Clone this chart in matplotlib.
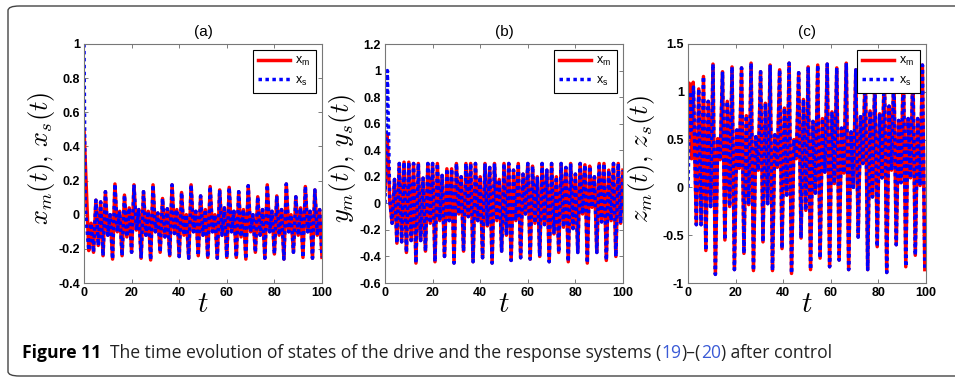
import numpy as np
import matplotlib.pyplot as plt
from matplotlib.patches import FancyBboxPatch

plt.rcParams['font.family'] = ['Liberation Sans', 'DejaVu Sans']
plt.rcParams['mathtext.fontset'] = 'cm'
plt.rcParams['axes.unicode_minus'] = False

# ---- values (turning points of the curves) ----
# transient before synchronisation: (time, value) for drive (m) and response (s)
xm_t0 = [0.0, 2.0]
xm_v0 = [0.50, -0.21]
xs_t0 = [0.0, 0.5, 2.0]
xs_v0 = [1.00, 0.05, -0.21]

ym_t0 = [0.0, 0.9, 2.0]
ym_v0 = [0.10, 0.52, 0.02]
ys_t0 = [0.0, 1.0, 2.0]
ys_v0 = [0.00, 1.00, 0.02]

zm_t0 = [0.0, 0.5, 1.5, 2.2, 3.5]
zm_v0 = [0.70, 1.09, 0.30, 1.10, -0.39]
zs_t0 = [0.0, 0.8, 1.4, 2.3, 3.5]
zs_v0 = [0.00, 1.00, 0.60, 1.05, -0.39]

# synchronised part, one turning point per time unit
t_ab = np.arange(2, 101)
x_sync = [-0.21, -0.05, -0.22, 0.085, -0.18, 0.075, -0.24, 0.135, -0.12, 0.0,
          -0.26, 0.18, -0.10, 0.02, -0.24, 0.115, -0.13, 0.04, -0.22, 0.175,
          -0.09, 0.03, -0.255, 0.135, -0.12, 0.02, -0.265, 0.175, -0.10, 0.01,
          -0.22, 0.095, -0.13, 0.035, -0.24, 0.175, -0.11, 0.03, -0.245, 0.13,
          -0.12, 0.0, -0.255, 0.175, -0.10, 0.02, -0.24, 0.11, -0.12, 0.03,
          -0.25, 0.165, -0.10, 0.0, -0.255, 0.145, -0.12, 0.04, -0.25, 0.16,
          -0.10, 0.02, -0.25, 0.135, -0.13, 0.03, -0.26, 0.17, -0.10, 0.0,
          -0.22, 0.105, -0.12, 0.03, -0.255, 0.175, -0.10, 0.02, -0.23, 0.11,
          -0.12, 0.03, -0.26, 0.18, -0.10, 0.0, -0.22, 0.105, -0.12, 0.04,
          -0.25, 0.165, -0.10, 0.02, -0.255, 0.145, -0.12, 0.03, -0.25]
y_sync = [0.02, -0.15, 0.18, -0.30, 0.30, -0.29, 0.31, -0.37, 0.31, -0.28,
          0.30, -0.45, 0.30, -0.28, 0.19, -0.36, 0.30, -0.15, 0.30, -0.44,
          0.30, -0.13, 0.21, -0.40, 0.26, -0.13, 0.26, -0.45, 0.30, -0.08,
          0.20, -0.36, 0.30, -0.10, 0.30, -0.44, 0.30, -0.13, 0.20, -0.41,
          0.30, -0.17, 0.27, -0.45, 0.30, -0.13, 0.18, -0.36, 0.30, -0.24,
          0.30, -0.43, 0.25, -0.13, 0.30, -0.41, 0.22, -0.08, 0.30, -0.42,
          0.28, -0.15, 0.20, -0.40, 0.30, -0.16, 0.25, -0.44, 0.30, -0.23,
          0.20, -0.37, 0.30, -0.18, 0.27, -0.44, 0.30, -0.19, 0.22, -0.37,
          0.30, -0.08, 0.29, -0.45, 0.28, -0.03, 0.20, -0.37, 0.30, -0.14,
          0.30, -0.43, 0.25, -0.13, 0.30, -0.40, 0.30, -0.15, 0.25]
t_c = np.arange(3.5, 100.0, 1.0)
z_sync = [-0.39, 1.03, -0.39, 1.16, -0.66, 0.90, -0.20, 1.29, -0.91, 0.51,
          0.29, 1.21, -0.55, 0.90, -0.20, 1.26, -0.86, 0.60, 0.20, 1.25,
          -0.69, 0.75, -0.18, 1.30, -0.87, 0.53, 0.18, 1.21, -0.57, 0.88,
          -0.17, 1.28, -0.87, 0.55, 0.21, 1.23, -0.64, 0.83, -0.08, 1.30,
          -0.90, 0.50, 0.30, 1.20, -0.53, 0.92, -0.24, 1.26, -0.86, 0.69,
          -0.06, 1.28, -0.74, 0.72, 0.16, 1.29, -0.83, 0.79, 0.04, 1.25,
          -0.76, 0.62, 0.15, 1.30, -0.86, 0.58, 0.00, 1.23, -0.52, 0.74,
          0.25, 1.25, -0.86, 0.80, -0.10, 1.15, -0.62, 0.77, 0.10, 1.28,
          -0.89, 0.85, 0.18, 1.20, -0.60, 0.70, 0.05, 1.30, -0.83, 0.72,
          0.10, 1.22, -0.71, 0.72, 0.02, 1.28, -0.86]

titles = ['(a)', '(b)', '(c)']
ylabels = [r'$x_m(t),\, x_s(t)$', r'$y_m(t),\, y_s(t)$', r'$z_m(t),\, z_s(t)$']
yticks = [np.arange(-0.4, 1.01, 0.2), np.arange(-0.6, 1.21, 0.2), np.arange(-1, 1.51, 0.5)]
legend_labels = [r'x$_\mathregular{m}$', r'x$_\mathregular{s}$']

W, H = 955, 379
fig = plt.figure(figsize=(W / 100, H / 100), dpi=100)

# rounded frame around the whole figure (cut off on the right like the page)
frame = FancyBboxPatch((8 / W, 3 / H), 1000 / W, 370 / H, transform=fig.transFigure,
                       boxstyle='round,pad=0,rounding_size=0.012', fc='none',
                       ec='#444444', lw=1.0, clip_on=False)
fig.patches.append(frame)

series = [
    (np.concatenate([xm_t0, t_ab[1:]]), np.concatenate([xm_v0, x_sync[1:]]),
     np.concatenate([xs_t0, t_ab[1:]]), np.concatenate([xs_v0, x_sync[1:]])),
    (np.concatenate([ym_t0, t_ab[1:]]), np.concatenate([ym_v0, y_sync[1:]]),
     np.concatenate([ys_t0, t_ab[1:]]), np.concatenate([ys_v0, y_sync[1:]])),
    (np.concatenate([zm_t0, t_c[1:]]), np.concatenate([zm_v0, z_sync[1:]]),
     np.concatenate([zs_t0, t_c[1:]]), np.concatenate([zs_v0, z_sync[1:]])),
]

lefts = [84, 385, 688]
ylab_x = [-0.113, -0.113, -0.13]
for i in range(3):
    ax = fig.add_axes([lefts[i] / W, (H - 283) / H, 238 / W, 239 / H])
    tm, vm, ts, vs = series[i]
    ax.plot(tm, vm, color='r', lw=2.5, label=legend_labels[0])
    ax.plot(ts, vs, color='b', lw=2.5, ls=(0, (1, 1)), label=legend_labels[1])
    ax.set_xlim(0, 100)
    ax.set_ylim(yticks[i][0], yticks[i][-1])
    ax.set_xticks([0, 20, 40, 60, 80, 100])
    ax.set_yticks(yticks[i])
    ax.set_yticklabels(['%g' % round(v, 1) for v in yticks[i]])
    ax.tick_params(direction='in', length=3, width=0.6, labelsize=9,
                   top=True, right=True, pad=3, color='#666666')
    for lab in ax.get_xticklabels() + ax.get_yticklabels():
        lab.set_fontweight('bold')
    for s in ax.spines.values():
        s.set_color('#777777')
        s.set_linewidth(0.8)
    ax.set_title(titles[i], fontsize=11, pad=6)
    ax.set_ylabel(ylabels[i], fontsize=19)
    ax.yaxis.set_label_coords(ylab_x[i], 0.52)
    ax.set_xlabel(r'$t$', fontsize=21)
    ax.xaxis.set_label_coords(0.5, -0.03)
    leg = ax.legend(loc='upper right', fontsize=9, frameon=True, fancybox=False,
                    framealpha=1, edgecolor='black', handlelength=2.6,
                    borderaxespad=0.5, labelspacing=0.5, handletextpad=0.4)
    leg.get_frame().set_linewidth(0.8)

# caption, drawn piece by piece so the equation numbers can be blue
cap_font = ['Open Sans', 'DejaVu Sans']
pieces = [('Figure 11', 'bold', 'black'),
          ('  The time evolution of states of the drive and the response systems (', 'normal', '#222222'),
          ('19', 'normal', '#3b5bd6'),
          (')\u2013(', 'normal', '#222222'),
          ('20', 'normal', '#3b5bd6'),
          (') after control', 'normal', '#222222')]
renderer = fig.canvas.get_renderer()
x0 = 22 / W
for txt, wt, col in pieces:
    t = fig.text(x0, (H - 353) / H, txt, fontsize=12.65, fontweight=wt, color=col,
                 family=cap_font, va='center', ha='left')
    bb = t.get_window_extent(renderer)
    x0 = bb.x1 / W

fig.savefig('out.png', dpi=100)
